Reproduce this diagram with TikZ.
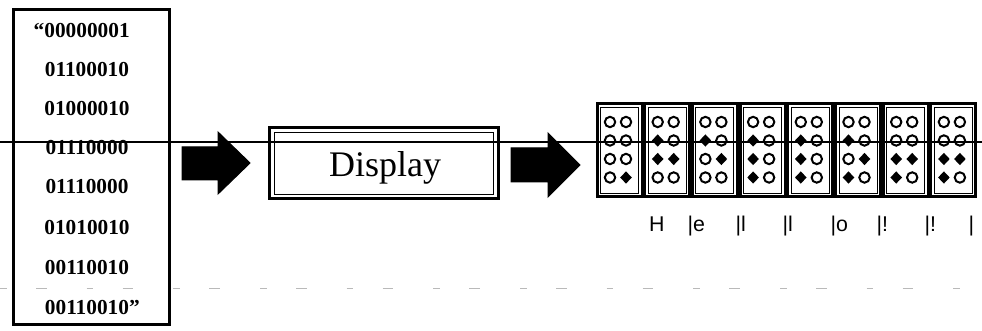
\documentclass[tikz,border=0pt]{standalone}
\usepackage{fontspec}
\setmainfont{Liberation Serif}
\newfontfamily\lblfont{Liberation Sans}
\usetikzlibrary{shapes.geometric}

\tikzset{every picture/.style={line width=0.75pt}}
\tikzset{
	bitrow/.style={inner sep=0.75pt, font=\fontsize{16}{18}\selectfont\bfseries},
	opendot/.style={circle, draw, line width=1.5pt, minimum size=7.8pt, inner sep=0pt},
	fulldot/.style={diamond, fill, minimum width=9pt, minimum height=9.5pt, inner sep=0pt},
	cellframe/.style={line width=2.25pt},
	celllabel/.style={anchor=base west, inner sep=0pt, font=\lblfont\fontsize{16}{18}\selectfont},
}

\begin{document}
\begin{tikzpicture}[x=0.75pt,y=0.75pt,yscale=-1,xscale=1]
	\useasboundingbox (0,0) rectangle (982,331);
	
	%Shape: Rectangle (bytes)
	\draw [line width=2.25pt] (13,9.5) rectangle (169,325) ;
	
	% Text Node
	\node [bitrow] (row1) at (87,31) {\llap{“}00000001};
	\node [bitrow] (row2) at (87,70) {01100010};
	\node [bitrow] (row3) at (87,109) {01000010};
	\node [bitrow] (row4) at (87,148) {01110000};
	\node [bitrow] (row5) at (87,187) {01110000};
	\node [bitrow] (row6) at (87,228) {01010010};
	\node [bitrow] (row7) at (87,268) {00110010};
	\node [bitrow] (row8) at (87,308) {00110010\rlap{"}};
	
	%Right Arrow
	\draw [fill=black] (182,147) -- (218,147) -- (218,132) -- (250,163) -- (218,194) -- (218,180) -- (182,180) -- cycle ;
	
	%Shape: Rectangle (display)
	\draw [line width=2.25pt] (269.5,128) rectangle (498,199) ;
	\draw (274,132.5) rectangle (493.5,194.5) ;
	% Text Node
	\node [anchor=base, inner sep=0pt, font=\fontsize{27}{30}\selectfont] (display) at (385,177) {Display};
	
	%Right Arrow
	\draw [fill=black] (511,148) -- (548,148) -- (548,133) -- (580,165) -- (548,197) -- (548,182) -- (511,182) -- cycle ;
	
	%Braille cells
	\foreach \cx/\code [count=\i] in {597/128,644.7/52,692.4/36,740.1/84,787.8/84,835.5/100,883.2/112,930.9/112}{
		\draw [cellframe] (\cx,104) rectangle ++(45,93) ;
		\draw (\cx+3.5,107.5) rectangle ++(38,86) ;
		\foreach \k in {0,...,7}{
			\pgfmathtruncatemacro\bit{mod(floor(\code/2^\k),2)}
			\pgfmathsetmacro\dx{\cx+13+16*mod(\k,2)}
			\pgfmathsetmacro\dy{122+18.5*floor(\k/2)}
			\ifnum\bit=1
				\node [fulldot] (d\i-\k) at (\dx,\dy) {};
			\else
				\node [opendot] (d\i-\k) at (\dx,\dy) {};
			\fi
		}
	}
	
	% Text Node
	\node [celllabel] (lblH) at (648.5,232) {H};
	\node [celllabel] (lblE) at (687,232) {|e};
	\node [celllabel] (lblL1) at (735,232) {|l};
	\node [celllabel] (lblL2) at (782,232) {|l};
	\node [celllabel] (lblO) at (830,232) {|o};
	\node [celllabel] (lblX1) at (876,232) {|!};
	\node [celllabel] (lblX2) at (924,232) {|!};
	\node [celllabel] (lblEnd) at (968,232) {|};
	
	%Straight Lines
	\draw [gray!55, line width=0.6pt, dash pattern=on 5pt off 22pt on 8pt off 30pt] (0,288.5) -- (982,288.5) ;
	\draw [line width=1.5pt] (0,142) -- (982,142) ;
	
\end{tikzpicture}
\end{document}
